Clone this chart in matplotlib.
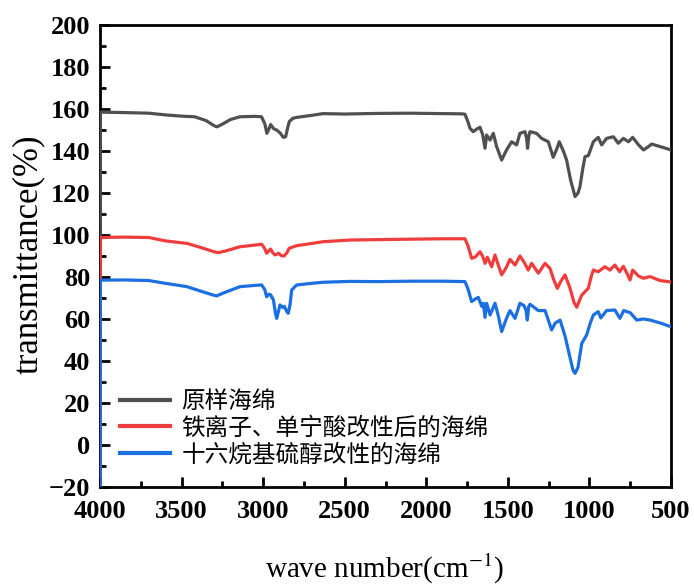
import matplotlib
matplotlib.use('Agg')
import matplotlib.pyplot as plt
from matplotlib.ticker import MultipleLocator

# wavenumber (cm-1) / transmittance (%)
gray_x = [4000, 3998, 3850, 3700, 3600, 3500, 3420, 3350, 3300, 3283, 3250, 3200, 3142, 3050, 3010,
          2990, 2977, 2962, 2954, 2935, 2917, 2895, 2876, 2862, 2850, 2840, 2817, 2795, 2700, 2633,
          2500, 2300, 2100, 1900, 1780, 1763, 1745, 1732, 1712, 1690, 1671, 1655, 1640, 1630, 1609,
          1589, 1569, 1538, 1508, 1477, 1446, 1426, 1395, 1385, 1379, 1372, 1364, 1324, 1293, 1252,
          1222, 1200, 1185, 1160, 1140, 1115, 1088, 1070, 1058, 1040, 1027, 1007, 976, 946, 925,
          895, 853, 823, 792, 761, 735, 700, 669, 640, 618, 567, 520, 503]
gray_y = [-30, 158.5, 158.3, 158.0, 157.2, 156.6, 156.3, 154.5, 152.0, 151.5, 152.8, 155.0, 156.3, 156.5, 156.3,
          153.0, 148.4, 151.0, 152.6, 150.6, 150.0, 148.5, 146.5, 146.8, 151.0, 154.0, 155.6, 156.0, 157.0, 157.8,
          157.6, 157.9, 158.0, 157.8, 157.7, 157.5, 154.0, 150.8, 149.2, 150.5, 151.3, 148.0, 141.3, 147.6, 145.2,
          148.4, 142.1, 135.7, 140.5, 144.4, 142.9, 148.4, 149.2, 146.0, 141.3, 147.0, 149.2, 148.4, 146.0, 144.4,
          137.0, 141.0, 144.4, 140.0, 135.7, 126.0, 118.3, 120.0, 123.0, 132.0, 137.3, 137.8, 144.4, 146.5, 142.9,
          146.0, 146.8, 143.7, 146.0, 144.4, 146.5, 143.0, 140.5, 142.0, 143.3, 142.1, 141.0, 140.5]

red_x = [4000, 3998, 3850, 3700, 3600, 3467, 3380, 3300, 3275, 3230, 3142, 3050, 3009, 2990, 2979,
         2965, 2954, 2940, 2927, 2905, 2890, 2872, 2855, 2840, 2795, 2700, 2633, 2468, 2300, 2100,
         1900, 1763, 1745, 1722, 1700, 1671, 1655, 1640, 1626, 1599, 1579, 1560, 1538, 1510, 1487,
         1456, 1426, 1400, 1375, 1354, 1313, 1272, 1242, 1220, 1197, 1175, 1150, 1120, 1095, 1078,
         1060, 1047, 1007, 990, 976, 946, 905, 874, 844, 815, 792, 765, 751, 735, 700,
         669, 629, 567, 516, 503]
red_y = [-30, 98.8, 99.0, 98.8, 97.2, 96.0, 94.0, 92.0, 91.6, 92.4, 94.4, 95.2, 95.6, 93.5, 91.3,
         92.5, 93.3, 91.5, 90.5, 91.3, 90.2, 90.0, 91.5, 93.7, 94.9, 96.0, 96.8, 97.6, 97.8, 98.0,
         98.2, 98.2, 95.0, 88.9, 89.5, 92.0, 90.0, 86.5, 89.4, 84.9, 90.5, 86.0, 81.0, 84.5, 88.4,
         85.7, 90.0, 87.0, 83.3, 86.5, 81.8, 86.5, 84.1, 79.0, 74.6, 78.0, 81.0, 75.0, 68.0, 65.6,
         69.0, 71.4, 74.6, 80.0, 83.3, 82.5, 84.9, 83.3, 85.7, 82.5, 85.1, 81.0, 78.6, 83.3, 80.5,
         79.4, 80.2, 78.3, 77.8, 77.6]

blue_x = [4000, 3998, 3850, 3700, 3600, 3467, 3380, 3310, 3285, 3240, 3142, 3050, 3009, 2990, 2979,
          2965, 2954, 2937, 2925, 2917, 2905, 2897, 2880, 2870, 2855, 2846, 2835, 2825, 2795, 2700,
          2632, 2468, 2300, 2100, 1900, 1763, 1745, 1722, 1700, 1681, 1660, 1650, 1640, 1630, 1609,
          1579, 1560, 1538, 1510, 1487, 1456, 1426, 1400, 1388, 1381, 1372, 1364, 1313, 1272, 1250,
          1232, 1210, 1180, 1150, 1120, 1100, 1088, 1070, 1047, 1017, 995, 976, 946, 930, 895,
          844, 813, 790, 750, 710, 670, 629, 557, 516, 503]
blue_y = [-30, 78.5, 78.6, 78.3, 77.0, 75.4, 73.2, 71.5, 71.0, 72.5, 75.4, 76.0, 76.2, 74.0, 70.6,
          71.8, 71.5, 69.0, 63.0, 60.3, 64.0, 66.7, 65.5, 66.0, 63.5, 62.7, 67.0, 73.8, 76.2, 77.0,
          77.5, 77.9, 77.8, 78.0, 78.0, 77.8, 74.5, 68.3, 69.5, 70.3, 66.0, 67.5, 60.8, 67.5, 61.9,
          67.5, 62.0, 54.0, 60.0, 64.0, 60.3, 67.5, 66.3, 64.0, 59.5, 66.0, 67.0, 64.0, 64.0, 59.0,
          54.8, 58.0, 59.5, 52.0, 42.0, 35.5, 34.1, 37.0, 48.4, 52.4, 58.0, 61.9, 63.5, 60.5, 64.0,
          64.3, 60.3, 64.0, 63.0, 59.5, 60.0, 59.5, 57.9, 56.7, 56.5]

labels = ['原样海绵', '铁离子、单宁酸改性后的海绵', '十六烷基硫醇改性的海绵']
colors = ['#505050', '#ef3d3d', '#1c6fe0']

plt.rcParams['mathtext.fontset'] = 'stix'
serif = ['Liberation Serif', 'DejaVu Serif']

fig = plt.figure(figsize=(6.94, 5.85), dpi=100)
ax = fig.add_axes([100 / 694, 1 - 487 / 585, 571 / 694, 462 / 585])

for xs, ys, c, lab in zip([gray_x, red_x, blue_x], [gray_y, red_y, blue_y], colors, labels):
    ax.plot(xs, ys, color=c, lw=2.3, label=lab, zorder=3)

ax.set_xlim(4000, 500)
ax.set_ylim(-20, 200)
ax.xaxis.set_major_locator(MultipleLocator(500))
ax.xaxis.set_minor_locator(MultipleLocator(250))
ax.yaxis.set_major_locator(MultipleLocator(20))
ax.yaxis.set_minor_locator(MultipleLocator(10))
ax.tick_params(which='both', direction='in', top=False, right=False, width=2)
ax.tick_params(which='major', length=7)
ax.tick_params(which='minor', length=4)
ax.tick_params(axis='y', pad=7)
ax.tick_params(axis='x', pad=9)
for lbl in ax.get_xticklabels() + ax.get_yticklabels():
    lbl.set_family(serif)
    lbl.set_fontweight('bold')
    lbl.set_fontsize(19)
for sp in ax.spines.values():
    sp.set_linewidth(2)

fig.text(37 / 694, 1 - 254 / 585, 'transmittance(%)', rotation=90, rotation_mode='anchor',
         ha='center', va='baseline', fontsize=25, family=serif)
fig.text(385 / 694, 1 - 578 / 585, 'wave number(cm$^{-1}$)', ha='center', va='baseline',
         fontsize=21, family=serif)

leg = ax.legend(loc='lower left', bbox_to_anchor=(0.035, 0.045), frameon=False,
                prop={'family': ['Noto Sans CJK SC', 'DejaVu Sans'], 'size': 17},
                handlelength=2.1, handletextpad=0.5, labelspacing=0.15, borderpad=0,
                borderaxespad=0)
for h in leg.get_lines():
    h.set_linewidth(3)

fig.savefig('out.png', dpi=100)
